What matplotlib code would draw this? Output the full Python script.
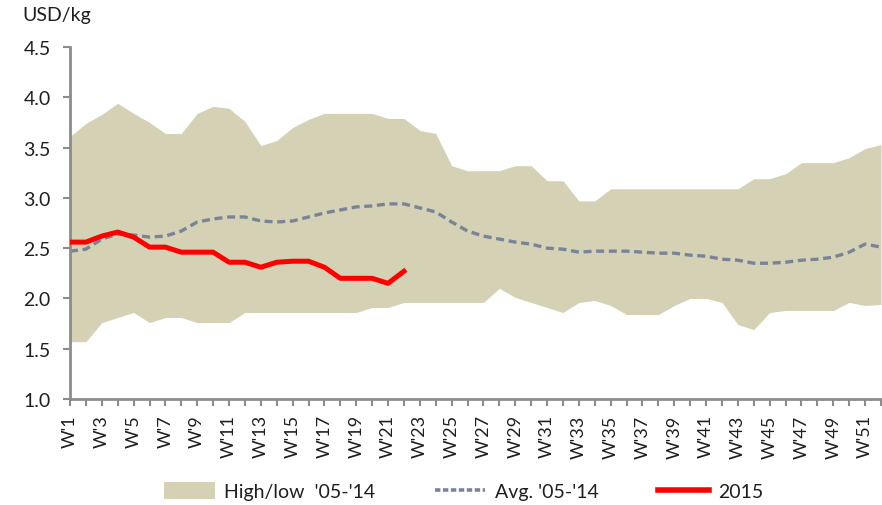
import matplotlib
matplotlib.use("Agg")
import matplotlib.pyplot as plt
from matplotlib.patches import Patch
from matplotlib.lines import Line2D

plt.rcParams['font.family'] = ['Lato', 'DejaVu Sans']

weeks = list(range(1, 53))
week_labels = [f"W'{w}" if w % 2 == 1 else "" for w in weeks]

high = [3.61, 3.74, 3.83, 3.94, 3.84, 3.75, 3.64, 3.64, 3.84, 3.91,
        3.89, 3.76, 3.52, 3.57, 3.70, 3.78, 3.84, 3.84, 3.84, 3.84,
        3.79, 3.79, 3.67, 3.64, 3.32, 3.27, 3.27, 3.27, 3.32, 3.32,
        3.17, 3.17, 2.97, 2.97, 3.09, 3.09, 3.09, 3.09, 3.09, 3.09,
        3.09, 3.09, 3.09, 3.19, 3.19, 3.24, 3.35, 3.35, 3.35, 3.40,
        3.49, 3.53]
low = [1.57, 1.57, 1.76, 1.81, 1.86, 1.76, 1.81, 1.81, 1.76, 1.76,
       1.76, 1.86, 1.86, 1.86, 1.86, 1.86, 1.86, 1.86, 1.86, 1.91,
       1.91, 1.96, 1.96, 1.96, 1.96, 1.96, 1.96, 2.10, 2.01, 1.96,
       1.91, 1.86, 1.96, 1.98, 1.93, 1.84, 1.84, 1.84, 1.93, 2.00,
       2.00, 1.96, 1.74, 1.69, 1.86, 1.88, 1.88, 1.88, 1.88, 1.96,
       1.93, 1.94]
avg = [2.47, 2.49, 2.59, 2.64, 2.63, 2.61, 2.62, 2.67, 2.76, 2.79,
       2.81, 2.81, 2.77, 2.76, 2.77, 2.81, 2.85, 2.88, 2.91, 2.92,
       2.94, 2.94, 2.90, 2.86, 2.76, 2.67, 2.62, 2.59, 2.56, 2.54,
       2.50, 2.49, 2.46, 2.47, 2.47, 2.47, 2.46, 2.45, 2.45, 2.43,
       2.42, 2.39, 2.38, 2.35, 2.35, 2.36, 2.38, 2.39, 2.41, 2.46,
       2.54, 2.51]
y2015 = [2.56, 2.56, 2.62, 2.66, 2.61, 2.51, 2.51, 2.46, 2.46, 2.46,
         2.36, 2.36, 2.31, 2.36, 2.37, 2.37, 2.31, 2.20, 2.20, 2.20,
         2.15, 2.27]

fill_color = '#D4D1B4'
avg_color = '#7A8398'
red = '#FF0000'
axis_color = '#8C8C8C'
text_color = '#1F1F1F'

fig = plt.figure(figsize=(8.82, 5.06), dpi=100)
ax = fig.add_axes([70/882, 1 - 400/506, (881-70)/882, (400-48)/506])

ax.fill_between(weeks, low, high, color=fill_color, linewidth=0, zorder=1)
ax.plot(weeks, avg, color=avg_color, linewidth=2.4, linestyle=(0, (2.4, 1.4)), zorder=2)
ax.plot(weeks[:len(y2015)], y2015, color=red, linewidth=3.6, zorder=3)

ax.set_xlim(1, 52)
ax.set_ylim(1.0, 4.5)
yt = [1.0, 1.5, 2.0, 2.5, 3.0, 3.5, 4.0, 4.5]
ax.set_yticks(yt)
ax.set_yticklabels([f"{v:.1f}" for v in yt])
ax.set_xticks(weeks)
ax.set_xticklabels(week_labels, rotation=90)

for s in ['top', 'right']:
    ax.spines[s].set_visible(False)
for s in ['left', 'bottom']:
    ax.spines[s].set_color(axis_color)
    ax.spines[s].set_linewidth(2)
ax.tick_params(axis='y', colors=axis_color, labelcolor=text_color, labelsize=14,
               length=5, width=1.5, direction='out', pad=9)
ax.tick_params(axis='x', colors=axis_color, labelcolor=text_color, labelsize=13,
               length=5, width=1.5, direction='out', pad=6)

fig.text(22/882, 1 - 15/506, 'USD/kg', fontsize=14, color=text_color, va='center', ha='left')

handles = [Patch(facecolor=fill_color, edgecolor='none'),
           Line2D([0], [0], color=avg_color, linewidth=2.6, linestyle=(0, (1.5, 0.7))),
           Line2D([0], [0], color=red, linewidth=4)]
labels = ["High/low  '05-'14", "Avg. '05-'14", "2015"]
fig.legend(handles, labels, loc='center', bbox_to_anchor=(464/882, 1 - 492/506),
           ncol=3, frameon=False, fontsize=14, handlelength=2.6, handletextpad=0.5,
           columnspacing=3.05, handleheight=1.0, labelcolor=text_color)

fig.savefig('out.png', dpi=100)
